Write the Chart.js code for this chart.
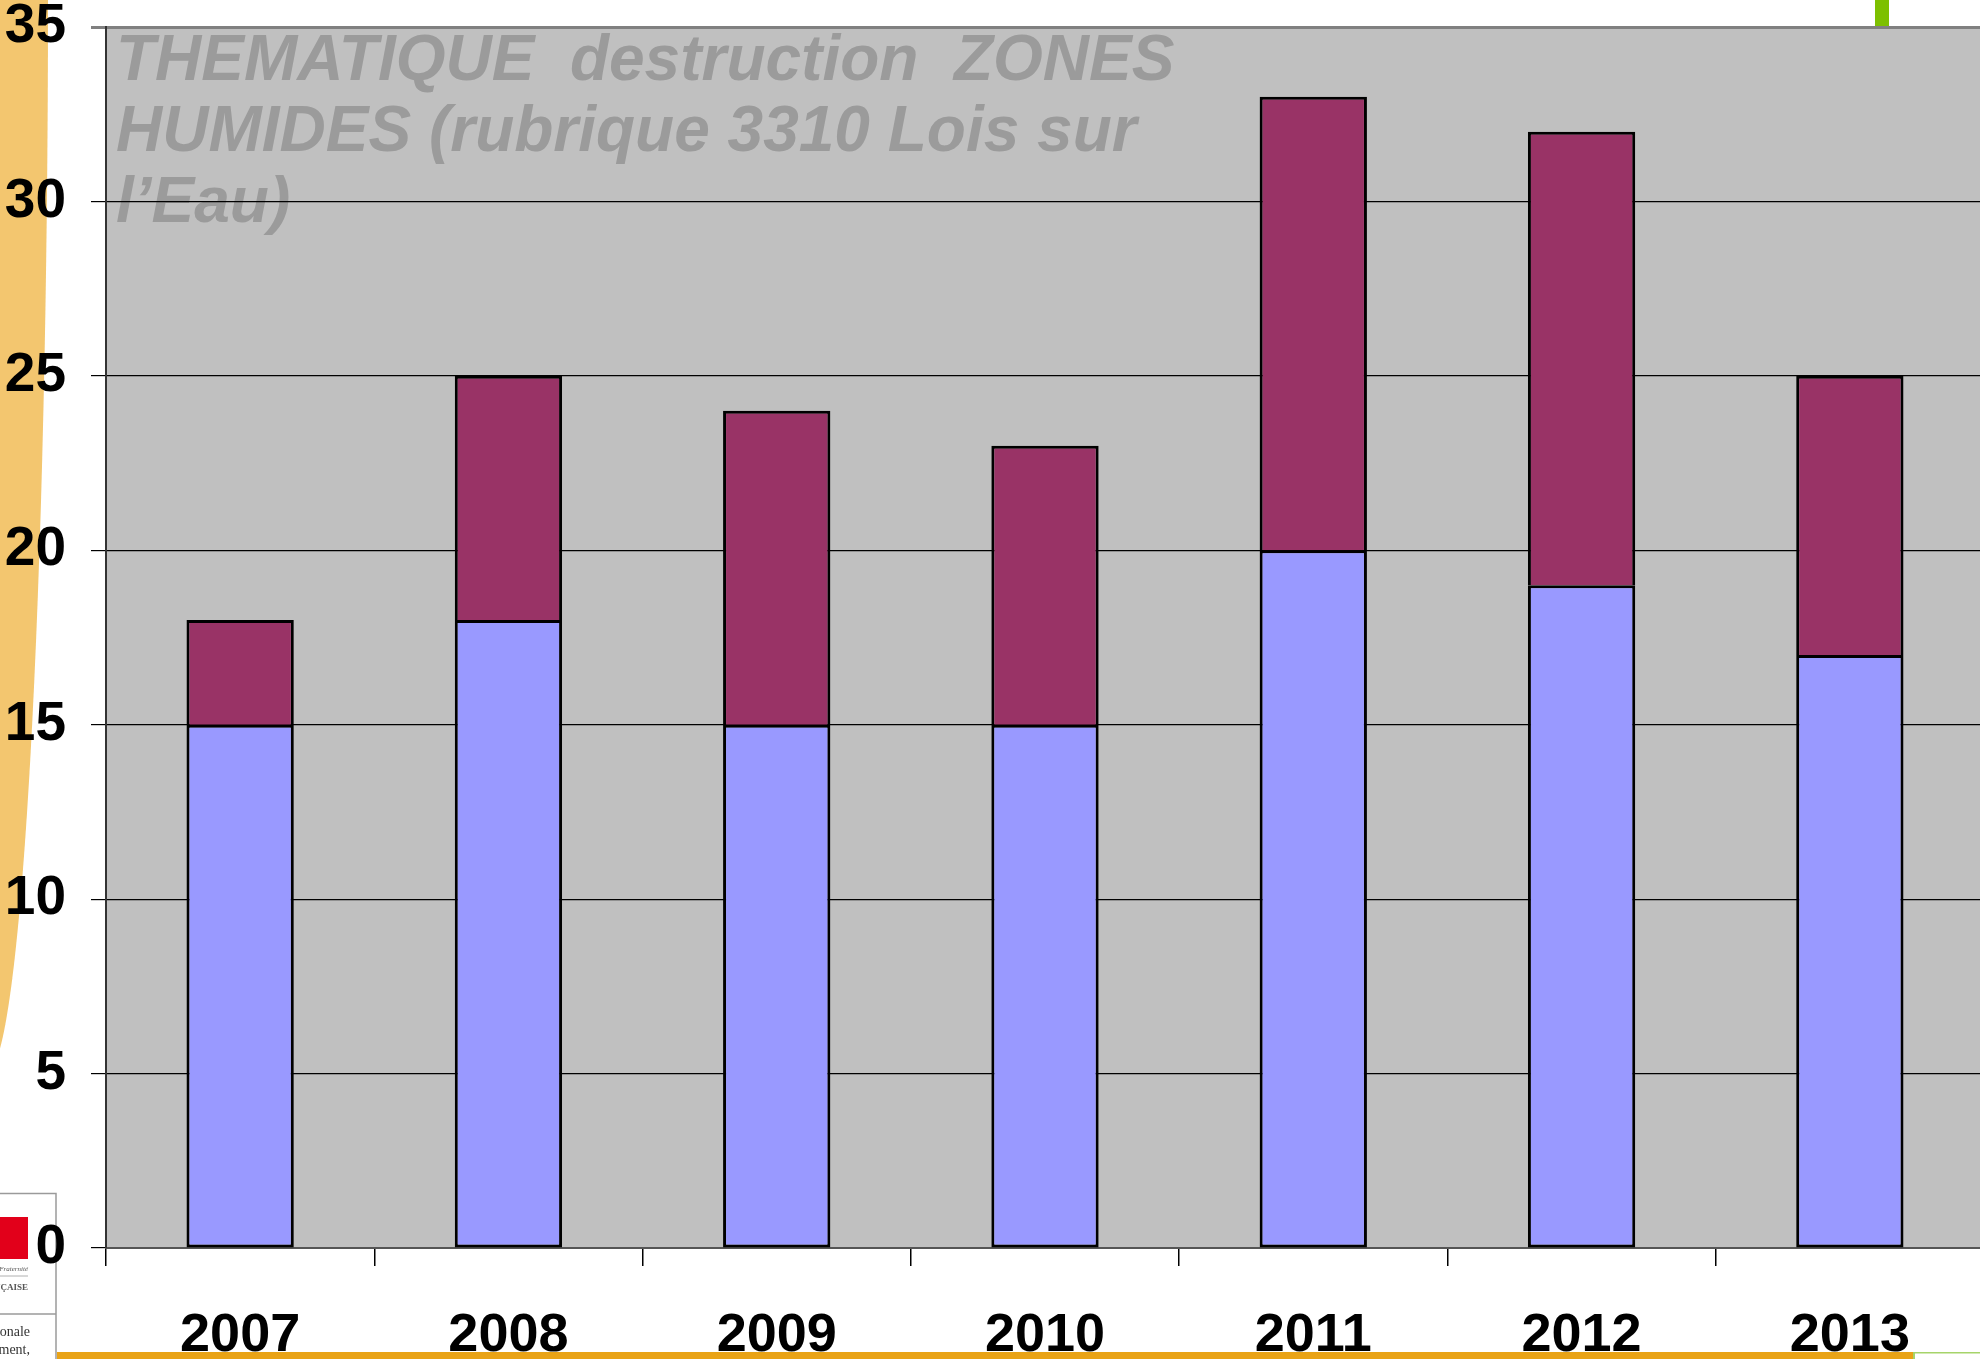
<!DOCTYPE html>
<html>
<head>
<meta charset="utf-8">
<script src="https://cdn.jsdelivr.net/npm/chart.js@4/dist/chart.umd.min.js"></script>
<style>
  html, body { margin: 0; padding: 0; background: #ffffff; overflow: hidden; }
  #wrap { position: relative; width: 1984px; height: 1359px; }
</style>
</head>
<body>
<div id="wrap"><canvas id="c"></canvas></div>
<script>
const categories = ['2007', '2008', '2009', '2010', '2011', '2012', '2013'];
const blueValues = [15, 18, 15, 15, 20, 19, 17];
const maroonValues = [3, 7, 9, 8, 13, 13, 8];
const yMin = 0, yMax = 35, yStep = 5;
const titleLines = ['THEMATIQUE  destruction  ZONES', 'HUMIDES (rubrique 3310 Lois sur', 'l\u2019Eau)'];

const yTickFont = { family: "'Liberation Sans', Arial, sans-serif", weight: 'bold', size: 55, lineHeight: 1 };
const xTickFont = { family: "'Liberation Sans', Arial, sans-serif", weight: 'bold', size: 54, lineHeight: 1.2 };

const decorPlugin = {
  id: 'decor',
  beforeDraw(chart) {
    const ctx = chart.ctx;
    const a = chart.chartArea;
    ctx.save();
    ctx.fillStyle = '#ffffff';
    ctx.fillRect(0, 0, chart.width, chart.height);
    // orange curved band on the left
    ctx.fillStyle = '#F3C66F';
    ctx.beginPath();
    ctx.ellipse(-12, 0, 60, 1070, 0, 0, Math.PI * 2);
    ctx.fill();
    // green bar top right
    ctx.fillStyle = '#7DC000';
    ctx.fillRect(1875, 0, 14, 27);
    // logo box bottom left
    ctx.fillStyle = '#ffffff';
    ctx.fillRect(0, 1193, 56, 166);
    ctx.strokeStyle = '#9a9a9a';
    ctx.lineWidth = 1.5;
    ctx.strokeRect(-2, 1193.5, 58, 200);
    ctx.beginPath(); ctx.moveTo(0, 1314); ctx.lineTo(56, 1314); ctx.stroke();
    ctx.fillStyle = '#E2001A';
    ctx.fillRect(0, 1217, 28, 42);
    ctx.strokeStyle = '#b0b0b0'; ctx.lineWidth = 1;
    ctx.beginPath(); ctx.moveTo(0, 1276); ctx.lineTo(28, 1276); ctx.stroke();
    ctx.fillStyle = '#555';
    ctx.textAlign = 'right';
    ctx.textBaseline = 'middle';
    ctx.font = 'italic 7px "Liberation Serif", serif';
    ctx.fillText('Fraternit\u00e9', 28, 1269);
    ctx.font = 'bold 9px "Liberation Serif", serif';
    ctx.fillText('FRAN\u00c7AISE', 28, 1288);
    ctx.fillStyle = '#333';
    ctx.font = '14px "Liberation Serif", serif';
    ctx.fillText('r\u00e9gionale', 30, 1332);
    ctx.fillText('l\u2019environnement,', 30, 1350);
    // plot background
    ctx.fillStyle = '#C0C0C0';
    ctx.fillRect(a.left, a.top, a.right - a.left, a.bottom - a.top);
    // title inside plot
    ctx.fillStyle = '#9B9B9B';
    ctx.textAlign = 'left';
    ctx.textBaseline = 'alphabetic';
    ctx.font = 'italic bold 64px "Liberation Sans", Arial, sans-serif';
    titleLines.forEach((t, i) => ctx.fillText(t, a.left + 10, 80 + i * 71));
    ctx.restore();
  },
  afterDraw(chart) {
    const ctx = chart.ctx;
    ctx.save();
    ctx.fillStyle = '#E9A316';
    ctx.fillRect(57, 1352, 1857, 8);
    ctx.fillStyle = '#A6D46A';
    ctx.fillRect(1913, 1352, 2, 8);
    ctx.fillRect(1913, 1352, 80, 1.5);
    ctx.restore();
  }
};

new Chart(document.getElementById('c'), {
  type: 'bar',
  data: {
    labels: categories,
    datasets: [
      { label: 'A', data: blueValues, backgroundColor: '#9999FF', borderColor: '#000000', borderWidth: 3, borderSkipped: false },
      { label: 'B', data: maroonValues, backgroundColor: '#993366', borderColor: '#000000', borderWidth: 3, borderSkipped: 'start' }
    ]
  },
  options: {
    responsive: true,
    maintainAspectRatio: false,
    devicePixelRatio: 1,
    animation: false,
    layout: { padding: { top: 0, left: 0, right: 0, bottom: 0 } },
    datasets: { bar: { categoryPercentage: 0.8, barPercentage: 0.5 } },
    plugins: { legend: { display: false }, title: { display: false }, tooltip: { enabled: false } },
    scales: {
      x: {
        stacked: true,
        grid: { offset: true, drawOnChartArea: false, drawTicks: true, tickLength: 18, color: '#000000', lineWidth: 1.5 },
        border: { display: true, color: '#555555', width: 2 },
        ticks: { font: xTickFont, color: '#000000', padding: 38, maxRotation: 0 },
        afterFit(s) { s.height = 111; s.paddingLeft = 0; s.paddingRight = 0; }
      },
      y: {
        stacked: true,
        min: yMin,
        max: yMax,
        ticks: { stepSize: yStep, font: yTickFont, color: '#000000', padding: 25 },
        grid: {
          color: (c) => (c.tick && c.tick.value === yMax) ? '#808080' : '#000000',
          lineWidth: (c) => (c.tick && c.tick.value === yMax) ? 3 : 1.2,
          tickLength: 15,
          drawTicks: true
        },
        border: { display: true, color: '#333333', width: 2 },
        afterFit(s) { s.width = 106; s.paddingTop = 27; s.paddingBottom = 0; }
      }
    }
  },
  plugins: [decorPlugin]
});
</script>
</body>
</html>
